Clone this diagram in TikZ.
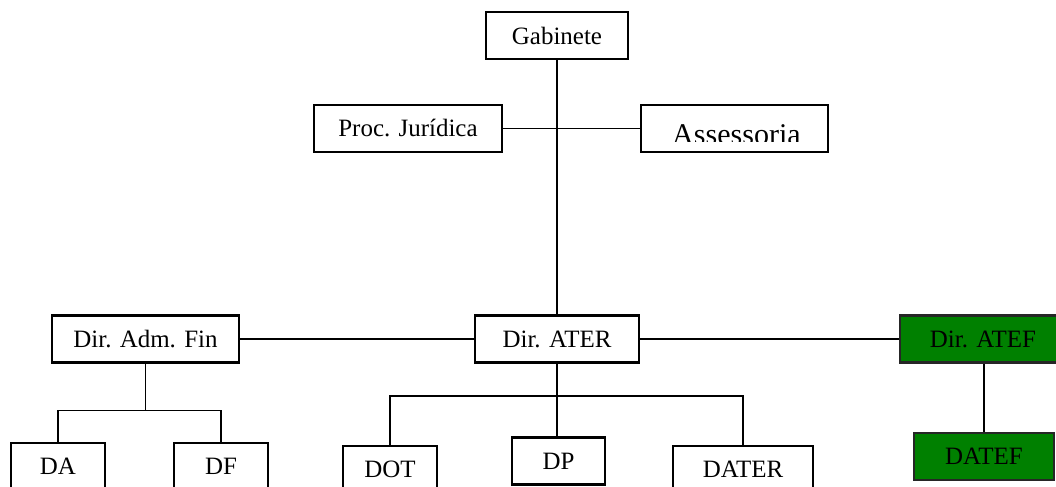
\documentclass[tikz,border=0pt]{standalone}
\usepackage{fontspec}
\setmainfont{Liberation Serif}
\definecolor{atefgreen}{HTML}{008000}
\tikzset{
  unit/.style={draw,line width=1.2pt,inner sep=0pt,minimum height=0.94cm,
    font=\fontsize{14.2}{17}\selectfont},
  greenbox/.style={fill=atefgreen,draw=black!85},
  link/.style={line width=1.05pt}
}
\begin{document}
\begin{tikzpicture}[x=0.02cm,y=-0.02cm]
  \useasboundingbox (0,0) rectangle (1056,487);
  % top level
  \node[unit,minimum width=2.84cm] (gab) at (557,35.5) {Gabinete};
  \node[unit,minimum width=3.76cm] (proc) at (408,128.5) {Proc. Jurídica};
  \node[unit,minimum width=3.74cm] (asse) at (734.5,128.5) {};
  \begin{scope}
   \clip (642,106) rectangle (827,141.5);
   \node[font=\fontsize{17.1}{20}\selectfont,inner sep=0pt,anchor=base] (assetxt) at (736.5,144) {Assessoria};
  \end{scope}
  % directorates
  \node[unit,minimum width=3.74cm] (adm) at (145.5,339) {Dir. Adm. Fin};
  \node[unit,minimum width=3.28cm] (ater) at (557,339) {Dir. ATER};
  \node[unit,greenbox,minimum width=3.32cm] (atef) at (983,339) {Dir. ATEF};
  % departments
  \node[unit,minimum width=1.88cm] (da) at (58,466.5) {DA};
  \node[unit,minimum width=1.88cm] (df) at (221,466.5) {DF};
  \node[unit,minimum width=1.88cm] (dot) at (390,469.5) {DOT};
  \node[unit,minimum width=1.86cm] (dp) at (558.5,461) {DP};
  \node[unit,minimum width=2.80cm] (dater) at (743,469.5) {DATER};
  \node[unit,greenbox,minimum width=2.80cm] (datef) at (984,456.5) {DATEF};
  % connectors
  \draw[link] (gab) -- (ater);
  \draw[link] (proc) -- (asse);
  \draw[link] (adm) -- (ater);
  \draw[link] (ater) -- (atef);
  \draw[link] (adm.south) -- ++(0,47) coordinate (admfork);
  \draw[link] (da.north) |- (admfork) -| (df.north);
  \coordinate (aterfork) at (ater.south |- 0,396);
  \draw[link] (ater.south) -- (ater.south |- dp.north);
  \draw[link] (dot.north) |- (aterfork) -| (dater.north);
  \draw[link] (atef.south -| datef.north) -- (datef.north);
\end{tikzpicture}
\end{document}
